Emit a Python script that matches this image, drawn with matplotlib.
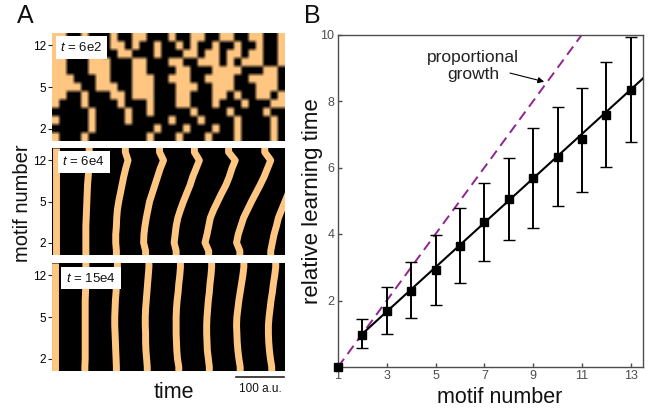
import numpy as np
import matplotlib
matplotlib.use('Agg')
import matplotlib.pyplot as plt
from matplotlib.colors import LinearSegmentedColormap
from matplotlib.lines import Line2D

plt.rcParams['font.family'] = ['Liberation Sans', 'DejaVu Sans']
plt.rcParams['mathtext.fontset'] = 'custom'
plt.rcParams['mathtext.it'] = 'Liberation Sans:italic'
plt.rcParams['mathtext.rm'] = 'Liberation Sans'

W, H = 656, 408

# panel A, t = 6e2: top row first, # is active
early_rows = [
    "##..#...#..##...#..##..##..##..#",
    "##...#..##.#..#..#.#..#..#..#..#",
    "##...##..##...#...##.##.##.##..#",
    "##...###...##...##..###.#.###..#",
    "##...###...##....##...####...##.",
    "###...##...###..###..####..####.",
    "####..###..###...###..###...###.",
    "##..#...##.###...##...##.#..##.#",
    "#...#....#...#...##...#...#...##",
    ".....#....#..#.....#....#....#..",
    "#....#....#.....#...#....#....#.",
    ".....#........#...#...#..#....#.",
    "#...#........#...#...#...#....#.",
]

rows = list(range(1, 14))
# the picture's labels sit evenly, row 7 carries the label 5
row_ticks = [2, 7, 12]
row_tick_labels = ['2', '5', '12']

# panel A, firing times per row 1..13 (time units, 145 = 100 a.u.)
mid_bands = [
    [11] * 13,
    [102, 102, 102, 102, 103, 104, 105, 106, 107, 109, 111, 112, 112],
    [194, 192, 192, 194, 195, 197, 201, 206, 211, 216, 222, 229, 221],
    [282, 276, 277, 280, 284, 289, 294, 302, 310, 318, 326, 336, 324],
    [374, 368, 371, 374, 379, 387, 396, 406, 416, 424, 434, 444, 429],
    [472, 461, 467, 472, 477, 487, 499, 511, 524, 534, 542, 552, 532],
    [566, 556, 561, 569, 577, 589, 601, 614, 627, 639, 649, 659, 641],
    [659, 664, 669, 676, 682, 692, 702, 712, 724],
]
late_bands = [
    [10] * 13,
    [99, 100, 100, 100, 100, 100, 100, 100, 100, 101, 101, 102, 102],
    [194, 193, 192, 191, 190, 189, 189, 190, 191, 193, 194, 196, 197],
    [287, 285, 283, 282, 282, 281, 281, 282, 284, 286, 288, 290, 292],
    [382, 378, 376, 375, 374, 374, 374, 375, 377, 380, 382, 385, 387],
    [474, 471, 468, 467, 466, 466, 467, 469, 471, 474, 476, 479, 481],
    [567, 563, 560, 558, 557, 556, 557, 560, 563, 567, 571, 575, 578],
    [662, 658, 655, 653, 652, 652, 654, 657, 660, 664, 667, 671, 674],
]

# panel B
motif_number = [1, 2, 3, 4, 5, 6, 7, 8, 9, 10, 11, 12, 13]
learning_time = [0, 0.97, 1.68, 2.3, 2.92, 3.63, 4.35, 5.05, 5.68, 6.33, 6.85, 7.58, 8.33]
err_low = [0, 0.58, 1.0, 1.47, 1.87, 2.52, 3.18, 3.82, 4.17, 4.83, 5.27, 6.03, 6.77]
err_high = [0, 1.43, 2.4, 3.15, 3.97, 4.77, 5.53, 6.3, 7.2, 7.83, 8.4, 9.17, 9.93]
fit_x = [2, 13.5]
fit_y = [1.0, 8.68]
prop_x = [1, 11]
prop_y = [0, 10]

orange = '#ffc682'
purple = '#8f2390'
gray = '#4d4d4d'


def add_px_axes(fig, left, top, right, bottom):
    return fig.add_axes([left / W, 1 - bottom / H, (right - left) / W, (bottom - top) / H])


def style_heatmap(ax, label, box_x, box_y):
    ax.set_xlim(0, 702)
    ax.set_ylim(0.5, 13.5)
    ax.set_xticks([])
    ax.set_yticks(row_ticks)
    ax.set_yticklabels(row_tick_labels)
    ax.tick_params(axis='y', length=3, width=0.8, labelsize=8.5, pad=1.5, color='#222222')
    for s in ax.spines.values():
        s.set_visible(False)
    ax.text(box_x, box_y, label, transform=ax.transAxes, fontsize=9.5, color='#111111',
            va='center', ha='left', zorder=5,
            bbox=dict(fc='white', ec='none', boxstyle='square,pad=0.35'))


def draw_bands(ax, bands):
    ax.set_facecolor('black')
    for band in bands:
        n = len(band)
        # bands run off the bottom and top of the panel
        xs = [band[0]] + band + [band[-1]]
        ys = [0.5] + rows[:n] + [rows[n - 1] + 0.5]
        ax.plot(xs, ys, color=orange, lw=5, solid_capstyle='butt', solid_joinstyle='round')


fig = plt.figure(figsize=(W / 100, H / 100), dpi=100)

# panel A
ax1 = add_px_axes(fig, 52, 33, 285, 141)
grid = np.array([[1 if c == '#' else 0 for c in r] for r in early_rows], dtype=float)
grid = np.repeat(np.repeat(grid, 2, axis=0), 2, axis=1)
ax1.imshow(grid, cmap=LinearSegmentedColormap.from_list('act', ['black', orange]),
           interpolation='bilinear', aspect='auto', extent=[0, 702, 0.5, 13.5])
style_heatmap(ax1, '$t$ = 6e2', 0.035, 0.865)

ax2 = add_px_axes(fig, 52, 148, 285, 255)
draw_bands(ax2, mid_bands)
style_heatmap(ax2, '$t$ = 6e4', 0.045, 0.87)

ax3 = add_px_axes(fig, 52, 263, 285, 371)
draw_bands(ax3, late_bands)
style_heatmap(ax3, '$t$ = 15e4', 0.06, 0.86)

fig.text(23 / W, 1 - 203 / H, 'motif number', rotation=90, fontsize=14.5, ha='center', va='center', color='#111111')
fig.text(174 / W, 1 - 393 / H, 'time', fontsize=15.5, ha='center', va='center', color='#111111')
fig.add_artist(Line2D([236 / W, 284 / W], [1 - 377 / H, 1 - 377 / H], color='#111111', lw=1.1))
fig.text(260 / W, 1 - 389 / H, '100 a.u.', fontsize=8.5, ha='center', va='center', color='#111111')
fig.text(25 / W, 1 - 16 / H, 'A', fontsize=18, ha='center', va='center', color='#111111')
fig.text(312 / W, 1 - 16 / H, 'B', fontsize=18, ha='center', va='center', color='#111111')

# panel B
ax = add_px_axes(fig, 338, 34.5, 643, 367)
ax.plot(prop_x, prop_y, color=purple, lw=1.4, dashes=(5.2, 3.1), zorder=2)
ax.plot(fit_x, fit_y, color='black', lw=1.5, zorder=3)
yerr = [np.array(learning_time) - np.array(err_low), np.array(err_high) - np.array(learning_time)]
ax.errorbar(motif_number[1:], learning_time[1:], yerr=[yerr[0][1:], yerr[1][1:]], fmt='none',
            ecolor='black', elinewidth=1.4, capsize=4, capthick=1.0, zorder=3)
ax.plot(motif_number, learning_time, 's', color='black', ms=5.2, zorder=4, clip_on=False)
ax.set_xlim(1, 13.5)
ax.set_ylim(0, 10)
ax.set_xticks([1, 3, 5, 7, 9, 11, 13])
ax.set_yticks([2, 4, 6, 8, 10])
ax.tick_params(direction='in', length=3, width=1.0, color=gray, labelcolor=gray, labelsize=9, pad=2.5)
for s in ax.spines.values():
    s.set_color(gray)
    s.set_linewidth(1.0)
ax.set_xlabel('motif number', fontsize=15.5, color='#111111')
ax.xaxis.set_label_coords(0.531, -0.06, transform=ax.transAxes)
ax.set_ylabel('relative learning time', fontsize=16, color='#111111')
ax.yaxis.set_label_coords(-0.05, 0.5, transform=ax.transAxes)
ax.text(6.55, 9.05, 'proportional\ngrowth', fontsize=12.5, ha='center', va='center', color='#222222', linespacing=1.2)
ax.annotate('', xy=(9.45, 8.58), xytext=(8.05, 8.84),
            arrowprops=dict(arrowstyle='-|>', color='black', lw=0.8, mutation_scale=9, shrinkA=0, shrinkB=0))

fig.savefig('out.png', dpi=100)
